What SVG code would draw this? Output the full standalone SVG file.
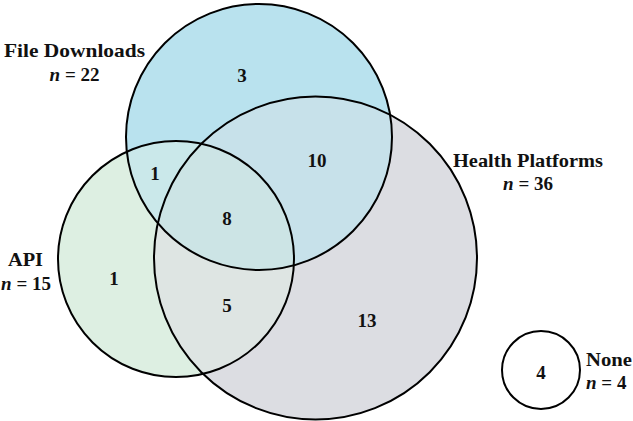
<svg xmlns="http://www.w3.org/2000/svg" width="633" height="421" viewBox="0 0 633 421">
<style>
text{font-family:"Liberation Serif","Times New Roman",serif;font-weight:bold;font-size:19px;fill:#111;}
.c{text-anchor:middle;}
.i{font-style:italic;}
.ring{fill:none;stroke:#000;stroke-width:2;}
</style>
<defs>
<clipPath id="cFD"><circle cx="259" cy="137" r="133"/></clipPath>
<clipPath id="cHP"><circle cx="315.5" cy="258" r="161.5"/></clipPath>
<clipPath id="cAPI"><circle cx="176" cy="259" r="118"/></clipPath>
<clipPath id="cHPAPI" clip-path="url(#cAPI)"><circle cx="315.5" cy="258" r="161.5"/></clipPath>
</defs>
<g id="fills">
<circle cx="259" cy="137" r="133" fill="#b9e2ee"/>
<circle cx="315.5" cy="258" r="161.5" fill="#dcdde2"/>
<circle cx="176" cy="259" r="118" fill="#ddefe2"/>
<circle cx="259" cy="137" r="133" fill="#c7e1ea" clip-path="url(#cHP)"/>
<circle cx="259" cy="137" r="133" fill="#cae8ea" clip-path="url(#cAPI)"/>
<circle cx="176" cy="259" r="118" fill="#dee5e3" clip-path="url(#cHP)"/>
<circle cx="259" cy="137" r="133" fill="#cce4e5" clip-path="url(#cHPAPI)"/>
</g>
<g id="file-downloads">
<circle class="ring" cx="259" cy="137" r="133"/>
<text class="c" x="74.5" y="57" textLength="141" lengthAdjust="spacingAndGlyphs">File Downloads</text>
<text class="c" x="74.5" y="81"><tspan class="i">n</tspan> = 22</text>
</g>
<g id="health-platforms">
<circle class="ring" cx="315.5" cy="258" r="161.5"/>
<text class="c" x="528" y="167" textLength="150" lengthAdjust="spacingAndGlyphs">Health Platforms</text>
<text class="c" x="528" y="190"><tspan class="i">n</tspan> = 36</text>
</g>
<g id="api">
<circle class="ring" cx="176" cy="259" r="118"/>
<text class="c" x="25.5" y="266" textLength="35" lengthAdjust="spacingAndGlyphs">API</text>
<text class="c" x="26" y="290"><tspan class="i">n</tspan> = 15</text>
</g>
<g id="none">
<circle class="ring" cx="541" cy="370" r="39"/>
<text x="586" y="366" textLength="46" lengthAdjust="spacingAndGlyphs">None</text>
<text x="586" y="389"><tspan class="i">n</tspan> = 4</text>
<text class="c" x="541" y="379">4</text>
</g>
<g id="counts">
<text class="c" x="242" y="82">3</text>
<text class="c" x="155" y="180">1</text>
<text class="c" x="317" y="167">10</text>
<text class="c" x="227" y="225">8</text>
<text class="c" x="114" y="285">1</text>
<text class="c" x="227" y="312">5</text>
<text class="c" x="367" y="327">13</text>
</g>
<g id="connectors"></g>
</svg>
